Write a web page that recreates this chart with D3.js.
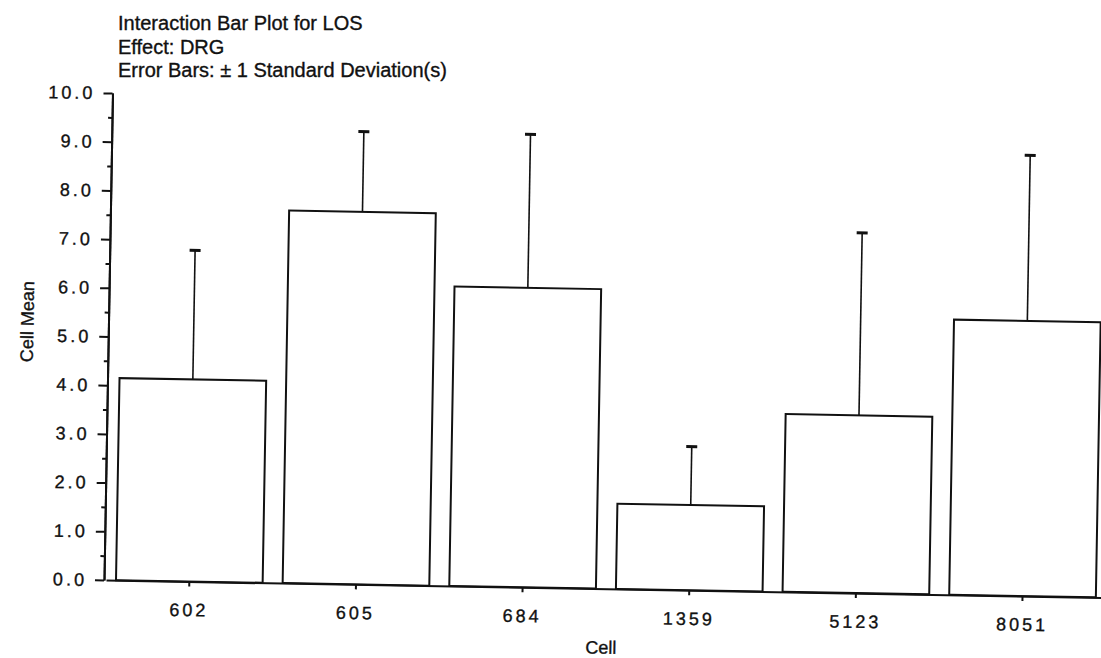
<!DOCTYPE html>
<html>
<head>
<meta charset="utf-8">
<script src="https://cdn.jsdelivr.net/npm/d3@7"></script>
<style>
    body { margin: 0; background: #fff; }
    text { font-family: "Liberation Sans", Arial, Helvetica, sans-serif; fill: #111; stroke: #111; stroke-width: 0.35px; }
</style>
</head>
<body>
<div id="chart"></div>
<script>
// cell means and standard deviations
const cells = ["602", "605", "684", "1359", "5123", "8051"];
const cellMeans = [4.15, 7.65, 6.15, 1.75, 3.65, 5.65];
const cellSDs = [2.65, 1.65, 3.15, 1.2, 3.75, 3.4];
const yTicks = [0, 1, 2, 3, 4, 5, 6, 7, 8, 9, 10];
const yMinorTicks = [0.5, 1.5, 2.5, 3.5, 4.5, 5.5, 6.5, 7.5, 8.5, 9.5];
const titleLines = [
    "Interaction Bar Plot for LOS",
    "Effect: DRG",
    "Error Bars: \u00B1 1 Standard Deviation(s)",
];

let settings = {
    width: 1101,
    height: 658,
    tilt: 1,          // the scan is a little rotated
    pivot: [105, 580],
};

let svg = d3.select("#chart").append("svg")
    .attr("width", settings.width)
    .attr("height", settings.height);

let x = d3.scaleBand()
    .domain(cells)
    .range([106, 1106])
    .paddingInner(0.12)
    .paddingOuter(0.06);

let y = d3.scaleLinear()
    .domain([0, 10])
    .range([580, 93]);

// title block
svg.append("g")
    .selectAll("text")
    .data(titleLines)
    .enter().append("text")
    .attr("x", 118)
    .attr("y", (d, i) => 30 + i * 23.5)
    .attr("font-size", 20)
    .text(d => d);

let plot = svg.append("g")
    .attr("transform", "rotate(" + settings.tilt + "," + settings.pivot.join(",") + ")");

// bars
plot.append("g")
    .selectAll("rect")
    .data(cells)
    .enter().append("rect")
    .attr("x", d => x(d))
    .attr("y", (d, i) => y(cellMeans[i]))
    .attr("width", x.bandwidth())
    .attr("height", (d, i) => y(0) - y(cellMeans[i]))
    .attr("fill", "#fff")
    .attr("stroke", "#111")
    .attr("stroke-width", 2);

// error bars, upper half only like the original
let err = plot.append("g")
    .selectAll("g")
    .data(cells)
    .enter().append("g");

err.append("line")
    .attr("x1", d => x(d) + x.bandwidth() / 2)
    .attr("x2", d => x(d) + x.bandwidth() / 2)
    .attr("y1", (d, i) => y(cellMeans[i]))
    .attr("y2", (d, i) => y(cellMeans[i] + cellSDs[i]))
    .attr("stroke", "#111")
    .attr("stroke-width", 1.6);

err.append("line")
    .attr("x1", d => x(d) + x.bandwidth() / 2 - 5.5)
    .attr("x2", d => x(d) + x.bandwidth() / 2 + 5.5)
    .attr("y1", (d, i) => y(cellMeans[i] + cellSDs[i]))
    .attr("y2", (d, i) => y(cellMeans[i] + cellSDs[i]))
    .attr("stroke", "#111")
    .attr("stroke-width", 3);

// y axis
plot.append("g")
    .attr("transform", "translate(104,0)")
    .call(d3.axisLeft(y)
        .tickValues(yTicks)
        .tickSize(9)
        .tickSizeOuter(0)
        .tickPadding(8)
        .tickFormat(d3.format(".1f")));

plot.append("g")
    .attr("transform", "translate(104,0)")
    .call(d3.axisLeft(y)
        .tickValues(yMinorTicks)
        .tickSize(4)
        .tickSizeOuter(0)
        .tickFormat(""));

// x axis
plot.append("g")
    .attr("transform", "translate(0," + y(0) + ")")
    .call(d3.axisBottom(x)
        .tickSize(5)
        .tickSizeOuter(0)
        .tickPadding(17));

plot.selectAll(".domain, .tick line")
    .attr("stroke", "#111")
    .attr("stroke-width", 2);

plot.selectAll(".tick text")
    .attr("font-family", '"Liberation Sans", Arial, sans-serif')
    .attr("font-size", 18)
    .attr("letter-spacing", 3)
    .attr("fill", "#111");

// axis titles
plot.append("text")
    .attr("x", 602)
    .attr("y", 645)
    .attr("text-anchor", "middle")
    .attr("font-size", 18)
    .text("Cell");

plot.append("text")
    .attr("transform", "translate(29,323) rotate(-90)")
    .attr("text-anchor", "middle")
    .attr("font-size", 18)
    .text("Cell Mean");
</script>
</body>
</html>
